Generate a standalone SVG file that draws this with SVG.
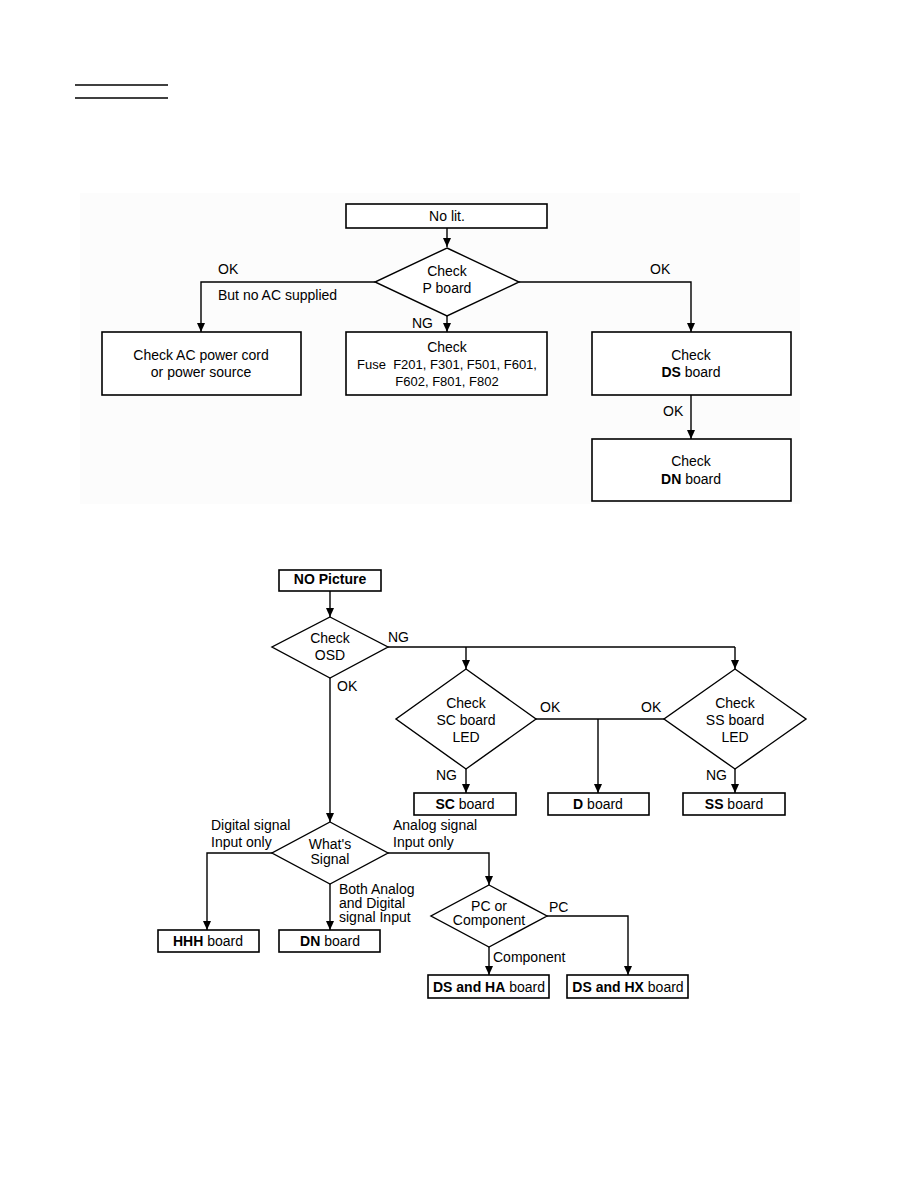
<svg xmlns="http://www.w3.org/2000/svg" width="918" height="1188" viewBox="0 0 918 1188">
<style>
text{font-family:"Liberation Sans",Arial,sans-serif;font-size:14px;fill:#000}
.c{text-anchor:middle}
.b{font-weight:bold}
.s{font-size:13px}
.box{fill:#fff;stroke:#000;stroke-width:1.6}
.dia{fill:#fff;stroke:#000;stroke-width:1.4}
.ln{fill:none;stroke:#000;stroke-width:1.4}
.arr{fill:none;stroke:#000;stroke-width:1.4;marker-end:url(#ah)}
</style>
<defs>
<marker id="ah" markerWidth="9" markerHeight="8" refX="9" refY="4" orient="auto" markerUnits="userSpaceOnUse">
<path d="M0,0 L9,4 L0,8 z" fill="#000"/>
</marker>
</defs>
<rect width="918" height="1188" fill="#fff"/>
<line x1="75" y1="85" x2="168" y2="85" stroke="#000" stroke-width="1.5"/>
<line x1="75" y1="98" x2="168" y2="98" stroke="#000" stroke-width="1.5"/>
<rect x="80" y="193" width="720" height="311" fill="#fcfcfc"/>

<g id="connectors">
<path class="arr" d="M447,228 V247"/>
<path class="arr" d="M375,282 H201 V332"/>
<path class="arr" d="M447,316 V332"/>
<path class="arr" d="M519,282 H691 V332"/>
<path class="arr" d="M691,395 V439"/>
<path class="arr" d="M330,591 V617"/>
<path class="ln" d="M388,647 H735"/>
<path class="arr" d="M466,647 V669"/>
<path class="arr" d="M735,647 V669"/>
<path class="ln" d="M536,719 H664"/>
<path class="arr" d="M598,719 V793"/>
<path class="arr" d="M466,769 V793"/>
<path class="arr" d="M735,769 V793"/>
<path class="arr" d="M330,678 V822"/>
<path class="arr" d="M272,853 H207 V930"/>
<path class="arr" d="M330,884 V930"/>
<path class="arr" d="M388,853 H489 V885"/>
<path class="arr" d="M489,947 V975"/>
<path class="arr" d="M547,916 H628 V975"/>
</g>

<g id="labels">
<text x="218" y="274">OK</text>
<text x="218" y="300">But no AC supplied</text>
<text x="412" y="328">NG</text>
<text x="650" y="274">OK</text>
<text x="663" y="416">OK</text>
<text x="388" y="642">NG</text>
<text x="337" y="691">OK</text>
<text x="540" y="712">OK</text>
<text x="641" y="712">OK</text>
<text x="436" y="780">NG</text>
<text x="706" y="780">NG</text>
<text x="211" y="830">Digital signal</text>
<text x="211" y="847">Input only</text>
<text x="393" y="830">Analog signal</text>
<text x="393" y="847">Input only</text>
<text x="339" y="894">Both Analog</text>
<text x="339" y="908">and Digital</text>
<text x="339" y="922">signal Input</text>
<text x="549" y="912">PC</text>
<text x="493" y="962">Component</text>
</g>

<g id="n_nolit"><rect class="box" x="346" y="204" width="201" height="24"/><text class="c" x="447" y="221">No lit.</text></g>
<g id="n_checkp"><polygon class="dia" points="447,248 519,282 447,316 375,282"/><text class="c" x="447" y="276">Check</text><text class="c" x="447" y="293">P board</text></g>
<g id="n_ac"><rect class="box" x="102" y="332" width="199" height="63"/><text class="c" x="201" y="360">Check AC power cord</text><text class="c" x="201" y="377">or power source</text></g>
<g id="n_fuse"><rect class="box" x="346" y="332" width="201" height="63"/><text class="c" x="447" y="352">Check</text><text class="c s" x="447" y="369" xml:space="preserve">Fuse  F201, F301, F501, F601,</text><text class="c s" x="447" y="386">F602, F801, F802</text></g>
<g id="n_ds"><rect class="box" x="592" y="332" width="199" height="63"/><text class="c" x="691" y="360">Check</text><text class="c" x="691" y="377"><tspan class="b">DS</tspan> board</text></g>
<g id="n_dn"><rect class="box" x="592" y="439" width="199" height="62"/><text class="c" x="691" y="466">Check</text><text class="c" x="691" y="484"><tspan class="b">DN</tspan> board</text></g>

<g id="n_nopic"><rect class="box" x="279" y="570" width="102" height="21"/><text class="c b" x="330" y="584">NO Picture</text></g>
<g id="n_osd"><polygon class="dia" points="330,617 388,647 330,678 272,647"/><text class="c" x="330" y="643">Check</text><text class="c" x="330" y="660">OSD</text></g>
<g id="n_sc"><polygon class="dia" points="466,669 536,719 466,769 396,719"/><text class="c" x="466" y="708">Check</text><text class="c" x="466" y="725">SC board</text><text class="c" x="466" y="742">LED</text></g>
<g id="n_ss"><polygon class="dia" points="735,669 806,719 735,769 664,719"/><text class="c" x="735" y="708">Check</text><text class="c" x="735" y="725">SS board</text><text class="c" x="735" y="742">LED</text></g>
<g id="n_scb"><rect class="box" x="414" y="793" width="102" height="22"/><text class="c" x="465" y="809"><tspan class="b">SC</tspan> board</text></g>
<g id="n_db"><rect class="box" x="548" y="793" width="101" height="22"/><text class="c" x="598" y="809"><tspan class="b">D</tspan> board</text></g>
<g id="n_ssb"><rect class="box" x="683" y="793" width="102" height="22"/><text class="c" x="734" y="809"><tspan class="b">SS</tspan> board</text></g>
<g id="n_what"><polygon class="dia" points="330,822 388,853 330,884 272,853"/><text class="c" x="330" y="849">What's</text><text class="c" x="330" y="864">Signal</text></g>
<g id="n_hhh"><rect class="box" x="158" y="930" width="101" height="22"/><text class="c" x="208" y="946"><tspan class="b">HHH</tspan> board</text></g>
<g id="n_dnb"><rect class="box" x="279" y="930" width="101" height="22"/><text class="c" x="330" y="946"><tspan class="b">DN</tspan> board</text></g>
<g id="n_pc"><polygon class="dia" points="489,885 547,916 489,947 431,916"/><text class="c" x="489" y="911">PC or</text><text class="c" x="489" y="925">Component</text></g>
<g id="n_dsha"><rect class="box" x="428" y="975" width="121" height="23"/><text class="c" x="489" y="992"><tspan class="b">DS and HA</tspan> board</text></g>
<g id="n_dshx"><rect class="box" x="567" y="975" width="121" height="23"/><text class="c" x="628" y="992"><tspan class="b">DS and HX</tspan> board</text></g>
</svg>
